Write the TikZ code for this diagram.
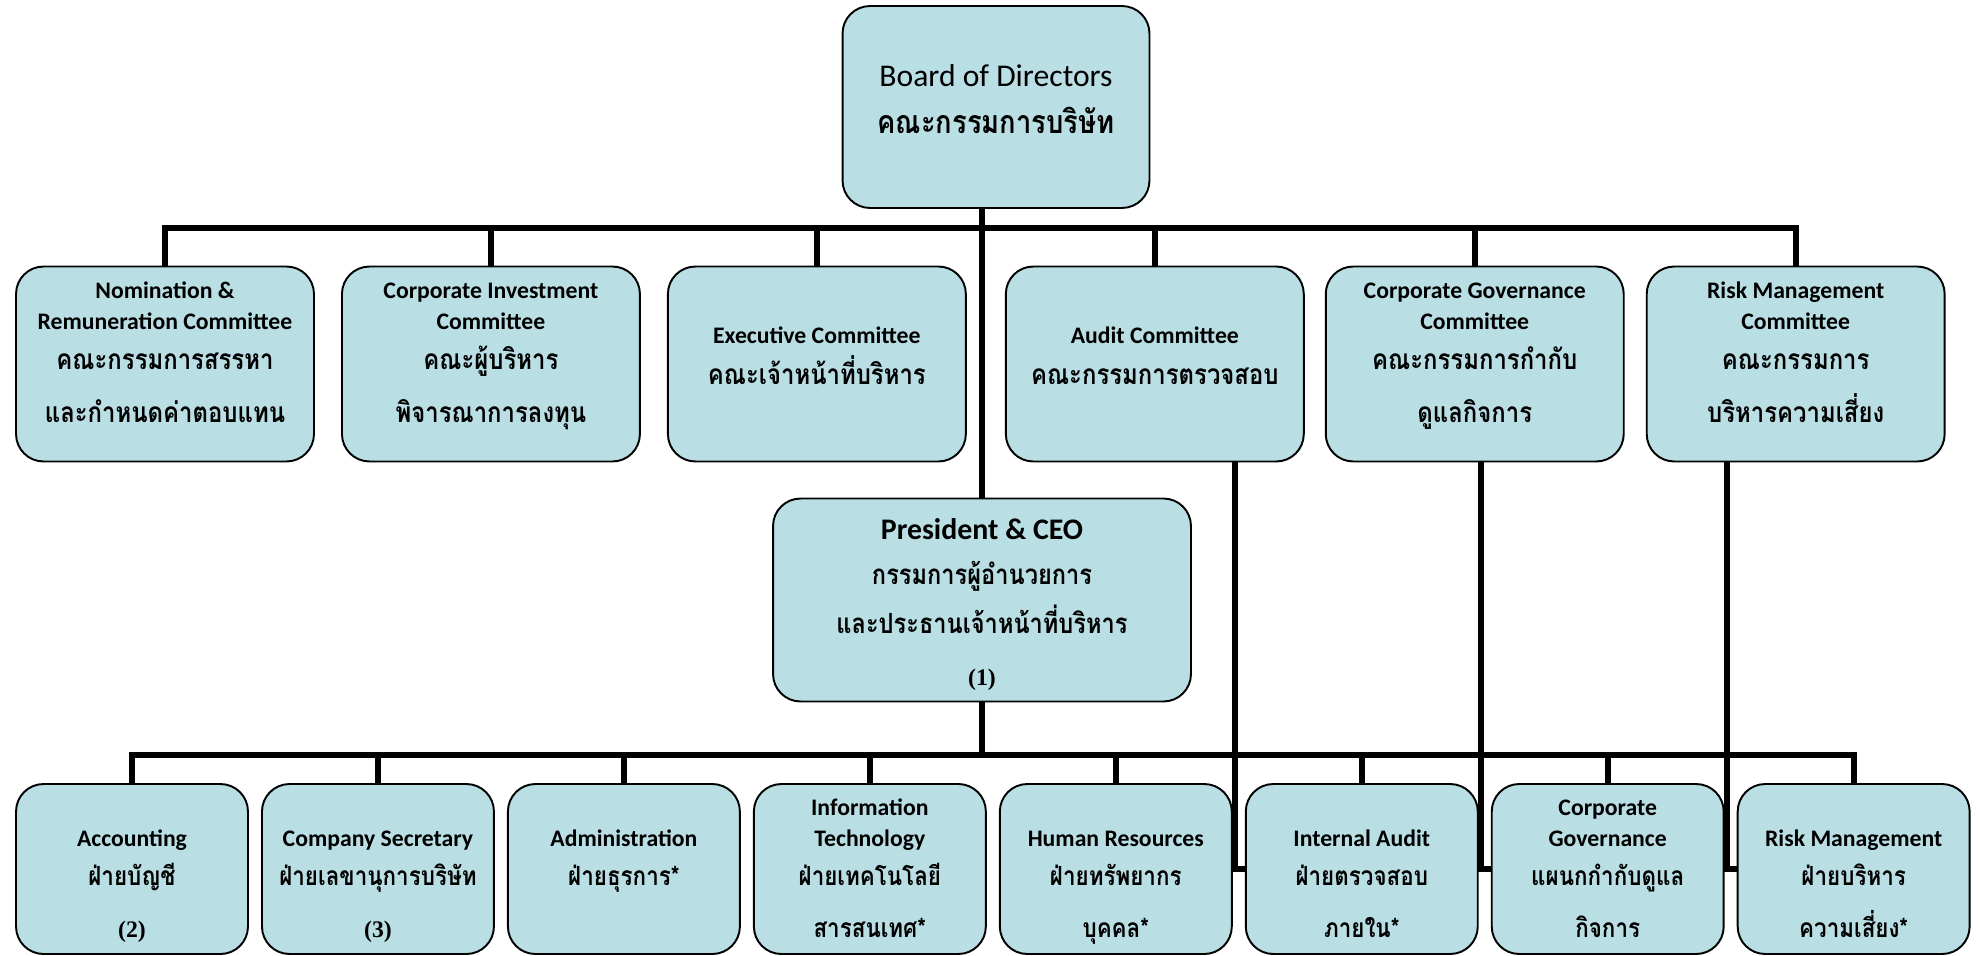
\documentclass[tikz,border=0pt]{standalone}
\usepackage{fontspec}
\setmainfont{Carlito}
\newfontfamily\thaifont[Script=Thai, FakeStretch=0.85]{Loma}
\newfontfamily\numfont{Liberation Serif}
\usepackage{tikz}
\usetikzlibrary{positioning}
\definecolor{boxblue}{RGB}{185,223,228}
\newcommand{\thai}[2][16]{{\thaifont\bfseries\fontsize{#1}{17.6}\selectfont #2}}
\newcommand{\numtxt}[1]{{\numfont\bfseries\fontsize{13.5}{17.6}\selectfont #1}}
\newcommand{\hpad}[1]{\rule{0pt}{#1}}
\newcommand{\dpad}[1]{\rule[-#1]{0pt}{0pt}}
\tikzset{node distance=6.52cm,
	unit/.style={
		draw, line width=1.1pt,
		fill=boxblue,
		rounded corners=0.55cm,
		align=center, inner sep=0pt,
		font=\fontsize{13.5}{17.6}\selectfont\bfseries},
	comm/.style={unit, minimum width=5.96cm, minimum height=3.9cm},
	dept/.style={unit, minimum width=4.64cm, minimum height=3.4cm},
	link/.style={draw, line width=3.3pt}
}

\begin{document}
\begin{tikzpicture}[x=0.02cm, y=-0.02cm]
	\useasboundingbox (0,0) rectangle (1980,956);
	\coordinate (topbar) at (0,228);
	\coordinate (lowbar) at (0,755);
	
	\node[unit, minimum width=6.14cm, minimum height=4.04cm, font=\fontsize{18}{27}\selectfont] (board) at (996,107) {Board of Directors\\\thai[18.3]{คณะกรรมการบริษัท}\dpad{9pt}};
	
	\node[comm] (nom) at (165,364) {\hpad{11pt}Nomination \&\\Remuneration Committee\\[5pt]\thai{คณะกรรมการสรรหา}\\[12.8pt]\thai{และกำหนดค่าตอบแทน}\dpad{14.5pt}};
	\node[comm, right of = nom] (cic) {\hpad{11pt}Corporate Investment\\Committee\\[5pt]\thai{คณะผู้บริหาร}\\[12.8pt]\thai{พิจารณาการลงทุน}\dpad{14.5pt}};
	\node[comm, right of = cic] (exe) {\hpad{11pt}Executive Committee\\[5.7pt]\thai{คณะเจ้าหน้าที่บริหาร}\dpad{10.5pt}};
	\node[comm, right of = exe, xshift=0.24cm] (aud) {\hpad{11pt}Audit Committee\\[5.7pt]\thai{คณะกรรมการตรวจสอบ}\dpad{10.5pt}};
	\node[comm, right of = aud, node distance=6.4cm] (cgc) {\hpad{11pt}Corporate Governance\\Committee\\[5pt]\thai{คณะกรรมการกำกับ}\\[12.8pt]\thai{ดูแลกิจการ}\dpad{14.5pt}};
	\node[comm, right of = cgc, node distance=6.42cm] (rmc) {\hpad{11pt}Risk Management\\Committee\\[5pt]\thai{คณะกรรมการ}\\[12.8pt]\thai{บริหารความเสี่ยง}\dpad{14.5pt}};
	
	\node[unit, minimum width=8.36cm, minimum height=4.06cm, font=\fontsize{17}{25.6}\selectfont\bfseries] (pres) at (982,600) {\hpad{17pt}President \& CEO\\\thai[15.8]{กรรมการผู้อำนวยการ}\\[2pt]\thai[15.8]{และประธานเจ้าหน้าที่บริหาร}\\[4pt]\numtxt{(1)}};
	
	\begin{scope}[node distance=4.92cm]
	\node[dept] (acc) at (132,869) {\hpad{15pt}\\Accounting\\[4.8pt]\thai[15]{ฝ่ายบัญชี}\\[12pt]\numtxt{(2)}\dpad{6.5pt}};
	\node[dept, right of = acc] (sec) {\hpad{15pt}\\Company Secretary\\[4.8pt]\thai[15]{ฝ่ายเลขานุการบริษัท}\\[12pt]\numtxt{(3)}\dpad{6.5pt}};
	\node[dept, right of = sec] (adm) {\hpad{15pt}\\Administration\\[4.8pt]\thai[15]{ฝ่ายธุรการ*}\\[12pt]\dpad{6.5pt}};
	\node[dept, right of = adm] (it) {\hpad{15pt}Information\\Technology\\[4.8pt]\thai[15]{ฝ่ายเทคโนโลยี}\\[12pt]\thai[15]{สารสนเทศ*}\dpad{6.5pt}};
	\node[dept, right of = it] (hr) {\hpad{15pt}\\Human Resources\\[4.8pt]\thai[15]{ฝ่ายทรัพยากร}\\[12pt]\thai[15]{บุคคล*}\dpad{6.5pt}};
	\node[dept, right of = hr] (ia) {\hpad{15pt}\\Internal Audit\\[4.8pt]\thai[15]{ฝ่ายตรวจสอบ}\\[12pt]\thai[15]{ภายใน*}\dpad{6.5pt}};
	\node[dept, right of = ia] (cg) {\hpad{15pt}Corporate\\Governance\\[4.8pt]\thai[15]{แผนกกำกับดูแล}\\[12pt]\thai[15]{กิจการ}\dpad{6.5pt}};
	\node[dept, right of = cg] (rm) {\hpad{15pt}\\Risk Management\\[4.8pt]\thai[15]{ฝ่ายบริหาร}\\[12pt]\thai[15]{ความเสี่ยง*}\dpad{6.5pt}};
	\end{scope}
	
	\draw[link] (board.south -| pres.north) -- (pres.north);
	\draw[link] (nom.north) -- (nom.north |- topbar) -- (rmc.north |- topbar) -- (rmc.north);
	\foreach \n in {cic,exe,aud,cgc}
		\draw[link] (\n.north) -- (\n.north |- topbar);
	
	\draw[link] (pres.south) -- (pres.south |- lowbar);
	\draw[link] (acc.north) -- (acc.north |- lowbar) -- (rm.north |- lowbar) -- (rm.north);
	\foreach \n in {sec,adm,it,hr,ia,cg}
		\draw[link] (\n.north) -- (\n.north |- lowbar);
	
	\draw[link] (aud.south -| ia.west) ++(-10,0) |- (ia.west);
	\draw[link] (cgc.south -| cg.west) ++(-10,0) |- (cg.west);
	\draw[link] (rmc.south -| rm.west) ++(-10,0) |- (rm.west);
	
\end{tikzpicture}
\end{document}
